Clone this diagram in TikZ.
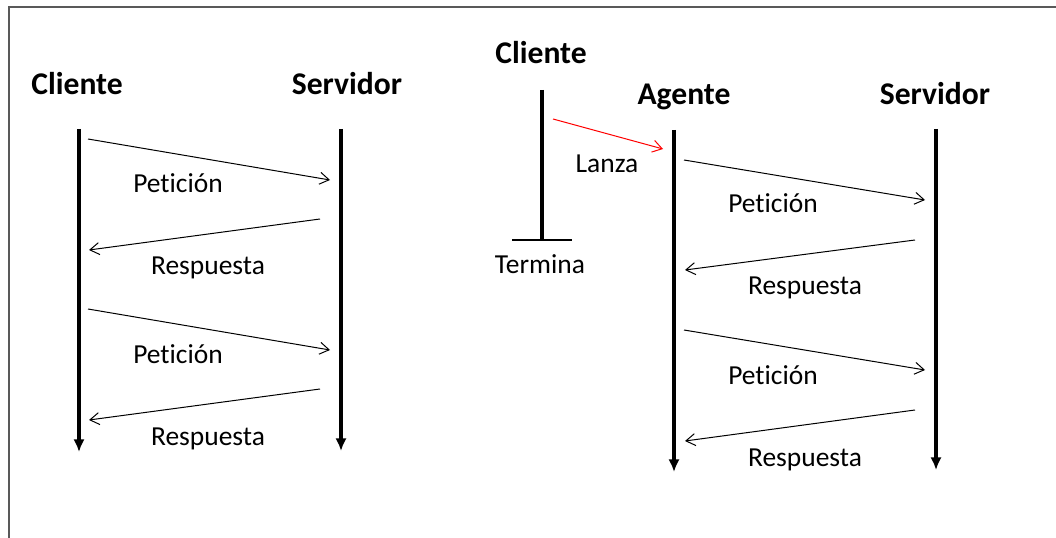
\documentclass[tikz,border=0pt]{standalone}
\usepackage{fontspec}
\setmainfont{Carlito}[Ligatures={NoCommon,NoContextual}]
\usetikzlibrary{arrows.meta}

\tikzset{
  titulo/.style={font=\fontsize{23.7}{28}\selectfont\bfseries, anchor=base, inner sep=0pt},
  etiqueta/.style={font=\fontsize{20.6}{24}\selectfont, anchor=base, inner sep=0pt},
  vida/.style={line width=2.5pt, -{Latex[length=9.5pt,width=8.5pt]}},
  mensaje/.style={line width=0.75pt, -{Straight Barb[length=7pt,width=9pt]}},
}

\begin{document}
\begin{tikzpicture}[x=0.75pt,y=-0.75pt]
\useasboundingbox (0,0) rectangle (1056,538);
\coordinate (m0) at (9,538);
\coordinate (m1) at (1056,7);
\draw[line width=1.3pt,black!65] (m0) |- (m1);

% izquierda: cliente - servidor
\begin{scope}
\node[titulo] (cli) at (77,95) {Cliente};
\node[titulo] (serv) at (347,95) {Servidor};
\coordinate (c0) at (79,129);
\coordinate (c1) at (79,452);
\coordinate (s0) at (341,129);
\coordinate (s1) at (341,451);
\draw[vida] (c0) -- (c1);
\draw[vida] (s0) -- (s1);

\coordinate (a1) at (88,139);
\coordinate (b1) at (330,180);
\draw[mensaje] (a1) -- (b1);
\node[etiqueta] (pet1) at (178,193) {Petición};
\coordinate (b2) at (320,219);
\coordinate (a2) at (89,250);
\draw[mensaje] (b2) -- (a2);
\node[etiqueta] (resp1) at (208,275) {Respuesta};

\coordinate (a3) at (88,309);
\coordinate (b3) at (330,350);
\draw[mensaje] (a3) -- (b3);
\node[etiqueta] (pet2) at (178,363) {Petición};
\coordinate (b4) at (320,389);
\coordinate (a4) at (89,420);
\draw[mensaje] (b4) -- (a4);
\node[etiqueta] (resp2) at (208,445) {Respuesta};
\end{scope}

% derecha: cliente - agente - servidor
\begin{scope}
\node[titulo] (cli2) at (541,64) {Cliente};
\coordinate (k0) at (542,90);
\coordinate (k1) at (542,240);
\draw[line width=2.5pt] (k0) -- (k1);
\coordinate (t0) at (512,240);
\coordinate (t1) at (572,240);
\draw[line width=1.2pt] (t0) -- (t1);
\node[etiqueta] (term) at (540,273) {Termina};

\coordinate (l0) at (553,119);
\coordinate (l1) at (663,149);
\draw[mensaje,red] (l0) -- (l1);
\node[etiqueta] (lanza) at (607,173) {Lanza};

\node[titulo] (ag) at (684,105) {Agente};
\node[titulo] (serv2) at (935,105) {Servidor};
\coordinate (g0) at (674,130);
\coordinate (g1) at (674,472);
\coordinate (r0) at (936,129);
\coordinate (r1) at (936,470);
\draw[vida] (g0) -- (g1);
\draw[vida] (r0) -- (r1);

\coordinate (d1) at (684,160);
\coordinate (e1) at (925,200);
\draw[mensaje] (d1) -- (e1);
\node[etiqueta] (pet3) at (773,213) {Petición};
\coordinate (e2) at (915,240);
\coordinate (d2) at (685,270);
\draw[mensaje] (e2) -- (d2);
\node[etiqueta] (resp3) at (805,295) {Respuesta};

\coordinate (d3) at (684,330);
\coordinate (e3) at (925,370);
\draw[mensaje] (d3) -- (e3);
\node[etiqueta] (pet4) at (773,384) {Petición};
\coordinate (e4) at (915,410);
\coordinate (d4) at (685,441);
\draw[mensaje] (e4) -- (d4);
\node[etiqueta] (resp4) at (805,466) {Respuesta};
\end{scope}

\end{tikzpicture}
\end{document}
